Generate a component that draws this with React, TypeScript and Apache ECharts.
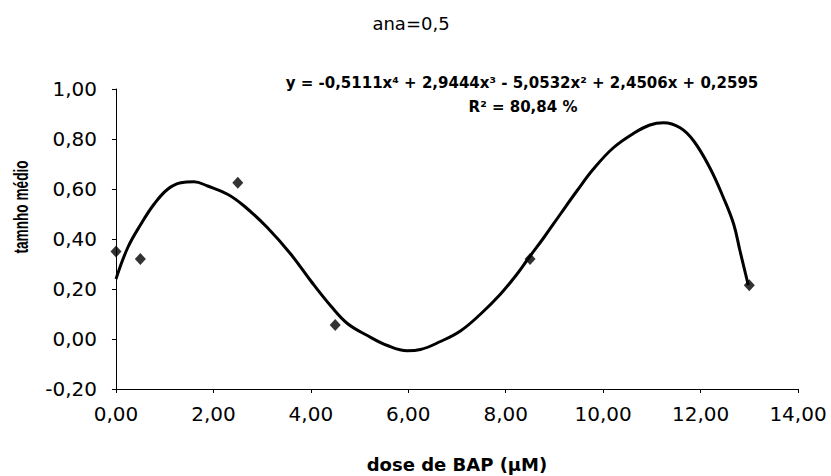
import React, { useEffect, useRef } from "react";
import * as echarts from "echarts";

const doseX = [0, 0.5, 2.5, 4.5, 8.5, 13];
const tamanho = [0.35, 0.32, 0.625, 0.056, 0.32, 0.215];

// trend line
const trendX = [0, 0.24, 0.51, 0.78, 1.06, 1.33, 1.6, 1.88, 2.29, 2.63, 3.11, 3.59, 4.0, 4.41, 4.75, 5.16, 5.57, 5.98, 6.25, 6.66, 7.07, 7.48, 7.89, 8.23, 8.46, 8.78, 9.12, 9.46, 9.8, 10.21, 10.62, 10.96, 11.24, 11.58, 11.86, 12.19, 12.47, 12.68, 12.81, 12.98];
const trendY = [0.24, 0.365, 0.459, 0.539, 0.599, 0.625, 0.629, 0.612, 0.579, 0.532, 0.445, 0.339, 0.232, 0.132, 0.062, 0.014, -0.026, -0.047, -0.042, -0.01, 0.032, 0.099, 0.179, 0.259, 0.321, 0.405, 0.499, 0.592, 0.68, 0.765, 0.822, 0.856, 0.865, 0.845, 0.792, 0.685, 0.565, 0.459, 0.352, 0.215];

const titleText = "ana=0,5";
const equationText = "y = -0,5111x\u2074 + 2,9444x\u00B3 - 5,0532x\u00B2 + 2,4506x + 0,2595";
const r2Text = "R\u00B2 = 80,84 %";
const xName = "dose de BAP (\u00B5M)";
const yName = "tamnho m\u00E9dio";

const fmt = (v: number) => v.toFixed(2).replace(".", ",");
const FONT = "DejaVu Sans, Verdana, sans-serif";
const FONT2 = "Liberation Sans, Arial, sans-serif";

export default function App() {
  const ref = useRef<HTMLDivElement>(null);
  useEffect(() => {
    if (!ref.current) return;
    const chart = echarts.init(ref.current, undefined, { renderer: "svg" });
    chart.setOption({
      animation: false,
      backgroundColor: "#ffffff",
      grid: { left: 116, right: 33, top: 89, bottom: 87, containLabel: false, outerBoundsMode: "none" },
      xAxis: {
        type: "value",
        min: 0,
        max: 14,
        interval: 2,
        name: xName,
        nameLocation: "middle",
        nameGap: 66,
        nameTextStyle: { color: "#000", fontFamily: FONT, fontSize: 18, fontWeight: "bold" },
        axisLine: { onZero: false, lineStyle: { color: "#000", width: 1 } },
        axisTick: { show: true, inside: false, length: 4, lineStyle: { color: "#000" } },
        splitLine: { show: false },
        axisLabel: { color: "#000", fontFamily: FONT, fontSize: 20, margin: 15, formatter: fmt },
      },
      yAxis: {
        type: "value",
        min: -0.2,
        max: 1.0,
        interval: 0.2,
        axisLine: { show: true, lineStyle: { color: "#000", width: 1 } },
        axisTick: { show: true, inside: false, length: 4, lineStyle: { color: "#000" } },
        splitLine: { show: false },
        axisLabel: { color: "#000", fontFamily: FONT, fontSize: 20, margin: 19, formatter: fmt },
      },
      graphic: [
        {
          type: "text",
          x: 411,
          y: 23,
          style: { text: titleText, fill: "#000", font: `18px ${FONT}`, textAlign: "center", textVerticalAlign: "middle" },
        },
        {
          type: "text",
          x: 522,
          y: 83,
          style: { text: equationText, fill: "#000", font: `bold 15px ${FONT}`, textAlign: "center", textVerticalAlign: "middle" },
        },
        {
          type: "text",
          x: 523,
          y: 107,
          style: { text: r2Text, fill: "#000", font: `bold 15px ${FONT}`, textAlign: "center", textVerticalAlign: "middle" },
        },
        {
          type: "text",
          x: 21,
          y: 207,
          rotation: Math.PI / 2,
          scaleX: 0.65,
          style: { text: yName, fill: "#000", font: `bold 21px ${FONT2}`, textAlign: "center", textVerticalAlign: "middle" },
        },
      ],
      series: [
        {
          type: "line",
          data: trendX.map((x, i) => [x, trendY[i]]),
          smooth: 0.4,
          showSymbol: false,
          symbol: "none",
          lineStyle: { color: "#000", width: 3 },
          z: 2,
        },
        {
          type: "scatter",
          data: doseX.map((x, i) => [x, tamanho[i]]),
          symbol: "diamond",
          symbolSize: [11, 12],
          itemStyle: { color: "#000" },
          z: 3,
        },
      ],
    });
    return () => chart.dispose();
  }, []);
  return <div ref={ref} style={{ position: "fixed", left: 0, top: 0, width: 831, height: 476 }} />;
}
